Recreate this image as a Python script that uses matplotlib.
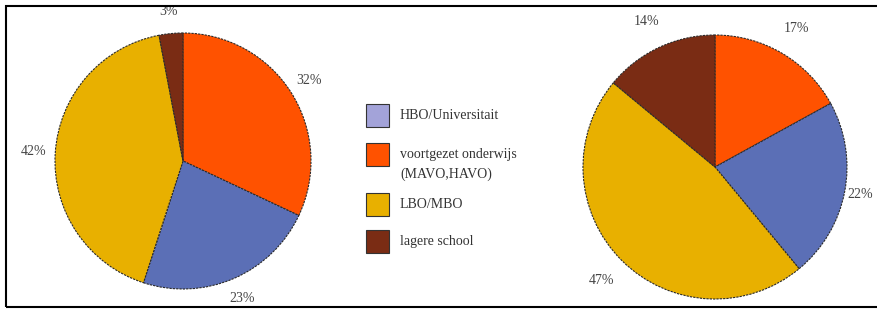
import matplotlib.pyplot as plt
from matplotlib.patches import Rectangle

# categories (legend order) and shares per pie
categories = ['HBO/Universitait', 'voortgezet onderwijs\n(MAVO,HAVO)', 'LBO/MBO', 'lagere school']
# drawing order in the pies: clockwise from 12 o'clock
pie_order = [1, 0, 2, 3]
left_vals = [23, 32, 42, 3]
right_vals = [22, 17, 47, 14]

C_PIE = ['#5b6fb6', '#ff5200', '#e8b000', '#7a2c14']
C_LEG = ['#a3a3d9', '#ff5200', '#e8b000', '#7a2c14']

plt.rcParams['font.family'] = ['Liberation Serif', 'DejaVu Serif']

W, H = 877, 309
fig = plt.figure(figsize=(W / 100, H / 100), dpi=100)


def px_axes(cx, cy, r):
    return fig.add_axes([(cx - r) / W, (H - cy - r) / H, 2 * r / W, 2 * r / H])


def draw_pie(ax, vals, pctd):
    v = [vals[i] for i in pie_order]
    c = [C_PIE[i] for i in pie_order]
    _, _, autotexts = ax.pie(
        v, colors=c, startangle=90, counterclock=False,
        autopct='%d%%', pctdistance=pctd,
        wedgeprops=dict(edgecolor='#2a2a2a', linewidth=0.8, linestyle=(0, (2, 1))),
        textprops=dict(fontsize=10, color='#444444'))
    ax.set_xlim(-1, 1)
    ax.set_ylim(-1, 1)
    ax.set_aspect('equal')
    ax.axis('off')
    for t in autotexts:
        t.set_clip_on(False)
    return autotexts


ax1 = px_axes(183, 161, 128)
draw_pie(ax1, left_vals, 1.17)

ax2 = px_axes(715, 167, 132)
txt2 = draw_pie(ax2, right_vals, 1.22)
# the blue label sits against the right edge of the frame
x, y = txt2[1].get_position()
txt2[1].set_position((x * 1.12 / 1.22, y * 1.12 / 1.22))

# legend drawn by hand
leg_y = [116, 155, 205, 242]
for i, lab in enumerate(categories):
    y = leg_y[i]
    fig.add_artist(Rectangle((366 / W, (H - y - 11) / H), 23 / W, 23 / H,
                             transform=fig.transFigure, facecolor=C_LEG[i],
                             edgecolor='#333333', linewidth=0.8))
    fig.text(400 / W, (H - y + 7) / H, lab, ha='left', va='top',
             fontsize=10, color='#333333', linespacing=1.6)

# outer frame
fig.add_artist(Rectangle((6 / W, 2 / H), 1.2, (H - 8) / H,
                         transform=fig.transFigure, fill=False,
                         edgecolor='black', linewidth=1.5))

fig.savefig('out.png', dpi=100)
